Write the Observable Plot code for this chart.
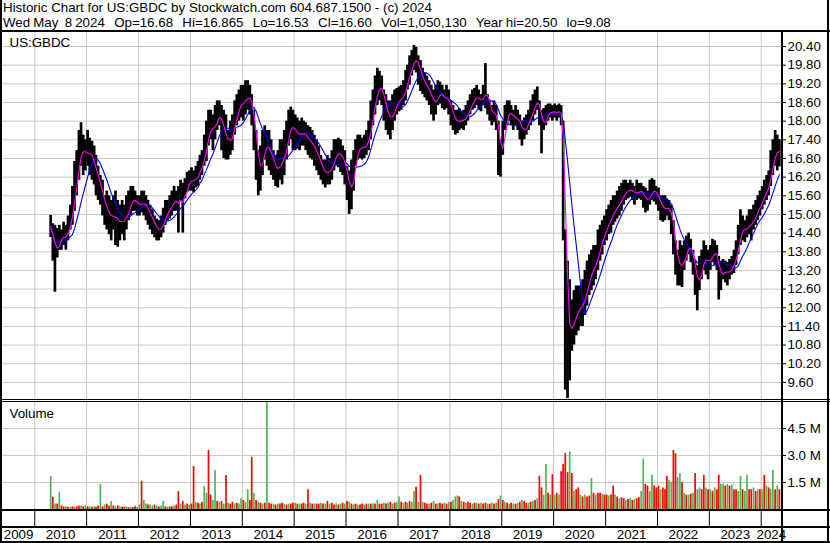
<!DOCTYPE html>
<html><head><meta charset="utf-8">
<script src="https://cdn.jsdelivr.net/npm/d3@7"></script>
<script src="https://cdn.jsdelivr.net/npm/@observablehq/plot@0.6"></script>
<style>
body{margin:0;background:#fff;}
#wrap{position:relative;width:830px;height:543px;overflow:hidden;background:#fff;font-family:"Liberation Sans",Arial,sans-serif;}
.hl{position:absolute;left:3px;font-size:13.33px;line-height:14px;white-space:pre;color:#000;}
.blk{position:absolute;background:#000;z-index:5;}
.pane{position:absolute;left:0;}
.pane svg{display:block;background:transparent !important;}
</style></head><body>
<div id="wrap">
<div class="hl" style="top:1px">Historic Chart for US:GBDC by Stockwatch.com 604.687.1500 - (c) 2024</div>
<div class="hl" style="top:16px;word-spacing:-0.6px">Wed May  8 2024   Op=16.68   Hi=16.865   Lo=16.53   Cl=16.60   Vol=1,050,130   Year hi=20.50   lo=9.08</div>
<div id="price" class="pane" style="top:32px"></div>
<div id="vol" class="pane" style="top:402px"></div>
<div id="axis" class="pane" style="top:511px"></div>
<div class="blk" style="left:0;top:30px;width:830px;height:2px"></div>
<div class="blk" style="left:0;top:0;width:2px;height:543px"></div>
<div class="blk" style="left:827px;top:0;width:2px;height:543px"></div>
<div class="blk" style="left:0;top:541px;width:830px;height:2px"></div>
<div class="blk" style="left:781px;top:32px;width:2px;height:509px"></div>
<div class="blk" style="left:0;top:399px;width:830px;height:1px"></div>
<div class="blk" style="left:0;top:401px;width:830px;height:1px"></div>
<div class="blk" style="left:0;top:509px;width:830px;height:2px"></div>
<div class="blk" style="left:0;top:526px;width:830px;height:2px"></div>
</div>
<script>
// Semi-monthly price ranges (high / low), starting with the second half of April 2010
const high = [
 14.97,14.7,14.65,14.55,14.65,14.5,14.75,14.65,14.95,15.3,15.9,16.7,17.05,17.7,17.95,17.55,17.4,
 17.7,17.45,17.35,17.2,16.9,16.55,16.25,16.1,15.6,15.75,15.6,15.45,15.6,15.75,15.45,15.3,15.45,15.3,15.6,15.75,15.9,15.9,15.75,15.6,
 15.6,15.75,15.75,15.6,15.45,15.3,15.15,14.95,14.85,14.8,14.95,15.2,15.45,15.45,15.6,15.75,15.9,15.75,15.9,16.1,16.0,16.15,16.35,16.4,
 16.5,16.4,16.55,16.7,16.9,17.05,17.55,18.0,18.35,18.35,18.2,18.5,18.65,18.65,18.5,18.35,18.2,17.7,18.0,18.2,18.65,18.85,19.0,19.15,
 19.15,19.3,19.3,19.15,18.85,18.35,17.7,17.05,17.2,17.7,17.85,17.7,17.7,17.4,17.05,16.9,17.05,17.4,17.4,17.7,18.0,18.35,18.45,18.35,
 18.2,18.1,18.0,18.1,18.0,17.95,17.85,17.8,17.7,17.55,17.4,17.2,16.9,16.75,16.75,16.9,16.8,17.05,17.4,17.4,17.45,17.4,17.2,17.05,
 16.55,16.4,16.75,17.05,17.4,17.55,17.55,17.45,17.55,17.7,18.0,18.65,19.0,19.45,19.7,19.6,19.45,19.0,18.85,18.65,18.65,18.85,19.0,19.05,
 19.1,19.15,19.3,19.63,19.8,20.1,20.27,20.43,20.37,20.1,19.95,19.7,19.55,19.45,19.3,19.15,19.0,19.15,19.3,19.25,19.15,19.0,19.15,19.0,
 18.65,18.5,18.35,18.35,18.4,18.3,18.35,18.5,18.65,18.85,19.0,19.05,19.15,19.0,18.85,19.15,19.85,18.85,18.65,18.5,18.65,18.5,18.0,17.4,
 18.0,18.5,18.65,18.65,18.5,18.35,18.5,18.35,18.2,18.0,18.1,18.2,18.35,18.65,18.85,19.0,19.1,18.65,18.35,18.4,18.5,18.55,18.55,18.5,
 18.55,18.5,18.55,18.5,18.0,14.5,13.5,12.9,12.25,12.55,12.7,12.7,12.7,12.9,13.2,13.5,13.7,13.85,14.0,14.0,14.5,14.65,14.8,14.95,
 15.15,15.3,15.45,15.6,15.6,15.75,15.9,16.0,16.1,16.1,16.0,16.1,16.0,15.9,16.1,16.0,16.0,15.9,15.85,15.75,16.1,16.15,16.1,15.9,
 15.85,15.6,15.6,15.6,15.5,15.45,15.3,14.8,14.15,13.85,14.15,14.0,14.15,14.3,14.4,14.2,13.85,13.5,13.35,13.65,13.85,14.15,14.0,13.85,
 14.0,14.2,14.15,14.0,13.65,13.5,13.55,13.5,13.45,13.55,13.65,13.85,14.15,14.65,15.15,14.95,14.8,14.95,15.15,15.15,15.3,15.45,15.6,15.75,
 15.9,16.1,16.25,16.4,17.05,17.4,17.7,17.55,17.4
];
const low = [
 14.26,13.5,12.5,13.6,13.85,13.85,14.0,13.85,14.15,14.5,14.65,15.1,15.6,16.1,16.55,16.25,16.4,
 16.55,16.25,16.1,15.95,15.6,15.45,15.3,14.95,14.65,14.5,14.35,14.15,14.5,14.0,13.95,14.15,14.35,14.15,14.5,14.8,14.95,15.1,15.1,14.95,
 14.95,15.05,14.95,14.8,14.65,14.5,14.35,14.25,14.15,14.15,14.25,14.4,14.65,14.8,14.85,14.95,15.1,15.1,14.4,15.45,14.4,15.5,15.7,15.75,
 15.75,15.7,15.85,15.9,16.1,16.25,16.55,16.7,17.2,17.4,17.05,17.4,17.7,17.85,17.05,16.8,16.75,16.75,16.9,17.05,17.55,17.85,18.0,18.1,
 18.0,18.2,18.35,18.2,17.85,17.05,16.1,15.6,15.75,16.25,16.75,16.55,16.4,16.25,16.1,15.9,15.85,16.1,15.95,16.25,16.75,17.2,17.4,17.05,
 17.05,17.1,17.05,17.2,17.2,17.05,16.9,16.8,16.75,16.55,16.4,16.25,16.1,15.95,15.85,15.95,15.95,16.1,16.4,16.55,16.5,16.35,16.25,15.95,
 15.45,15.0,15.15,15.75,16.55,16.75,16.8,16.75,16.8,16.9,17.05,17.4,17.85,18.2,18.5,18.65,18.5,18.0,17.7,17.55,17.4,17.7,18.0,18.2,
 18.3,18.35,18.5,18.65,19.0,19.15,19.45,19.63,19.55,19.15,18.95,18.85,18.75,18.65,18.5,18.2,18.0,18.2,18.5,18.55,18.4,18.35,18.4,18.2,
 17.85,17.7,17.55,17.6,17.7,17.75,17.7,17.85,18.0,18.2,18.35,18.4,18.5,18.35,18.3,18.5,18.4,18.2,18.0,17.85,17.95,17.7,16.25,16.2,
 16.9,17.7,17.85,18.0,17.85,17.7,17.85,17.7,17.4,17.2,17.4,17.55,17.7,17.85,18.0,18.2,18.35,17.85,16.95,17.7,17.85,18.0,18.1,18.0,
 18.1,18.0,18.1,17.85,14.15,9.35,9.08,9.65,10.6,10.8,11.1,11.25,11.4,11.4,11.75,12.05,12.4,12.55,12.7,12.9,13.2,13.5,13.7,14.0,
 14.15,14.35,14.4,14.65,14.75,14.85,14.95,15.1,15.3,15.45,15.5,15.55,15.45,15.3,15.45,15.5,15.45,15.2,15.05,15.1,15.3,15.45,15.4,15.3,
 15.1,14.8,14.75,14.8,14.95,14.8,14.35,13.7,13.05,12.7,12.7,12.65,13.2,13.5,13.7,13.45,13.05,12.4,11.9,12.55,12.9,13.2,13.05,12.9,
 13.2,13.45,13.35,13.2,12.25,12.55,12.9,12.8,12.7,12.9,13.05,13.1,13.35,13.7,14.0,14.15,14.1,14.25,14.35,14.15,14.5,14.65,14.8,14.95,
 15.15,15.3,15.45,15.6,15.9,16.25,16.55,16.4,16.53
];
// Peak volume (millions) in each half month
const volume = [
 1.83,0.68,0.3,0.3,0.95,0.2,0.15,0.15,0.12,0.12,0.15,0.12,0.15,0.2,0.2,0.15,0.2,
 0.15,0.15,0.12,0.15,0.12,0.2,1.39,0.15,0.25,0.3,0.2,0.44,0.2,0.15,0.2,0.15,0.12,0.12,0.15,0.1,0.12,0.1,0.15,0.12,
 0.25,1.57,0.5,0.3,0.25,0.25,0.2,0.25,0.2,0.15,0.2,0.45,0.15,0.12,0.15,0.15,0.2,0.25,1.0,0.3,0.45,0.25,0.3,0.25,
 0.3,2.39,0.4,0.35,0.3,0.4,1.28,0.9,3.28,0.8,0.5,2.17,0.45,0.4,0.45,0.3,1.89,0.35,0.3,0.4,0.3,0.35,0.3,0.6,
 0.5,0.4,1.1,0.5,2.9,0.9,0.5,0.4,0.35,0.3,0.35,5.94,0.35,0.3,0.3,0.25,0.3,0.3,0.35,0.3,0.25,0.3,0.3,0.35,
 0.35,0.3,0.3,0.3,0.35,0.3,1.1,0.35,0.3,0.3,0.3,0.3,0.35,0.3,0.3,0.45,0.3,0.35,0.25,0.3,0.25,0.3,0.35,0.3,
 0.45,0.4,0.3,0.25,0.3,0.25,0.25,0.3,0.25,0.3,0.3,0.3,0.3,0.3,0.5,0.3,0.3,0.35,0.3,0.35,0.4,0.3,0.35,0.4,
 0.7,0.4,0.35,0.4,0.35,0.45,0.4,1.0,1.24,0.4,1.89,0.4,0.35,0.3,0.3,0.35,0.45,0.3,0.3,0.35,0.3,0.35,0.3,0.4,
 0.4,0.5,0.7,0.75,0.7,0.45,0.4,0.35,0.4,0.35,0.3,0.35,0.35,0.3,0.35,0.3,0.35,0.3,0.3,0.35,0.3,0.35,0.55,0.75,
 0.5,0.4,0.35,0.3,0.35,0.3,0.3,0.35,0.4,0.5,0.45,0.35,0.35,0.4,0.45,0.5,0.6,1.85,1.2,0.8,2.5,0.9,0.8,1.94,
 0.8,0.9,0.8,2.1,2.5,3.1,2.05,3.2,2.0,1.0,1.1,1.2,0.8,0.7,0.8,0.7,0.75,1.72,0.9,0.8,0.9,0.9,0.85,0.8,
 0.8,0.75,0.8,1.3,0.8,0.7,0.6,0.65,0.6,0.5,0.55,0.6,0.5,0.55,0.6,0.65,1.0,2.8,1.4,1.3,1.0,1.9,1.3,1.2,
 1.3,1.1,1.2,1.1,1.83,1.6,1.5,3.28,3.1,1.78,2.0,1.5,0.9,0.8,0.8,0.85,0.9,2.0,1.1,1.2,1.1,1.9,1.2,1.1,
 1.1,1.0,1.2,1.1,1.9,1.4,1.4,1.3,1.4,1.3,1.35,1.1,1.1,1.0,1.83,1.1,1.0,1.9,1.1,1.1,1.2,1.0,1.1,1.1,
 1.1,1.9,1.3,1.2,1.1,2.17,1.1,1.3,1.1
];
// Bar colour: g = up (green), r = down (red)
const direction = [
 "grgrgrrgrgrgrrgrg",
 "rgrgrrgrgrrgrgrgrrgrgrrg",
 "grggrggrgrggrgrrgrrgrgrg",
 "rrgrgrggrrggrgrgrgrrgrgg",
 "rggrrgrgrgrgrrgrgrrgrgrr",
 "grgrrgrgrgrrgrgrgrrgrgrg",
 "rgrgrgrrgrgrgrgrrgrgrgrg",
 "grgrgrggrgrgrrgrgrgrrgrg",
 "rgggrgrgrrgrgrgrrgrgrgrg",
 "rgrgrgrgrgrrgrgrgrrggrgr",
 "grgrrrrgrgrrgrgrrgrgrrgr",
 "rgrrgrgrrgrgrgrrggrrggrr",
 "rgrrrggrrggrgrgrgrggrrgr",
 "grgrrggrgrgrrggrggrrgrgr",
 "grgrggrgr"
].join("").split("");
const priceTicks = [9.6,10.2,10.8,11.4,12.0,12.6,13.2,13.8,14.4,15.0,15.6,16.2,16.8,17.4,18.0,18.6,19.2,19.8,20.4];
const volumeTicks = [1.5,3.0,4.5];
const years = [2009,2010,2011,2012,2013,2014,2015,2016,2017,2018,2019,2020,2021,2022,2023,2024];

if (high.length !== low.length || high.length !== volume.length || high.length !== direction.length)
  throw new Error(`length mismatch high=${high.length} low=${low.length} vol=${volume.length} dir=${direction.length}`);

const FIRST_HALF = 7; // half-month index of 2010-04 (second half)
const rows = high.map((h, i) => {
  const k = FIRST_HALF + i;
  const y = 2010 + Math.floor(k / 24);
  const m = Math.floor((k % 24) / 2);
  return {date: new Date(y, m, k % 2 ? 23 : 8), high: h, low: low[i], mid: (h + low[i]) / 2, vol: volume[i], dir: direction[i]};
});

const xDomain = [new Date(2009, 4, 19), new Date(2024, 4, 22, 22)];
const yearStarts = years.slice(1).map(y => new Date(y, 0, 1));
const yearLabels = years.map(y => {
  const a = Math.max(+new Date(y, 0, 1), +xDomain[0]);
  const b = Math.min(+new Date(y + 1, 0, 1), +xDomain[1]);
  return {label: String(y), mid: new Date((a + b) / 2)};
});

const FONT = "'Liberation Sans', Arial, sans-serif";
const GRID = "#c8c8c8";
const GREEN = "#4cb84c";
const RED = "#ff0000";
const common = {width: 830, marginLeft: 2, marginRight: 49, marginTop: 0, marginBottom: 0,
  style: {fontFamily: FONT, fontSize: "13.33px", background: "transparent", overflow: "visible", color: "#000"}};

const price = Plot.plot({
  ...common, height: 367,
  x: {type: "time", domain: xDomain, axis: null},
  y: {domain: [9.05, 20.85], axis: null},
  marks: [
    Plot.ruleY(priceTicks, {stroke: GRID}),
    Plot.ruleX(yearStarts, {stroke: GRID}),
    Plot.ruleX(rows, {x: "date", y1: "low", y2: "high", stroke: "#000", strokeWidth: 2.7}),
    Plot.lineY(rows, Plot.windowY({k: 10, anchor: "end", reduce: "mean"}, {x: "date", y: "mid", stroke: "#0000ff", strokeWidth: 1.1})),
    Plot.lineY(rows, Plot.windowY({k: 3, anchor: "end", reduce: "mean"}, {x: "date", y: "mid", stroke: "#ff00ff", strokeWidth: 1.1})),
    Plot.axisY(priceTicks, {anchor: "right", label: null, tickFormat: d => d.toFixed(2), tickSize: 4, tickPadding: 2, fontSize: 13.33, stroke: "#000"}),
    Plot.text(["US:GBDC"], {frameAnchor: "top-left", dx: 7, dy: 5, lineAnchor: "top", textAnchor: "start", fontSize: 13.33, fill: "#000"})
  ]
});
document.getElementById("price").append(price);

const vol = Plot.plot({
  ...common, height: 107,
  x: {type: "time", domain: xDomain, axis: null},
  y: {domain: [0, 5.95], axis: null},
  marks: [
    Plot.ruleY(volumeTicks, {stroke: GRID}),
    Plot.ruleX(yearStarts, {stroke: GRID}),
    Plot.ruleX(rows.filter(d => d.dir === "g"), {x: "date", y1: 0, y2: "vol", stroke: GREEN, strokeWidth: 1.7}),
    Plot.ruleX(rows.filter(d => d.dir === "r"), {x: "date", y1: 0, y2: "vol", stroke: RED, strokeWidth: 1.7}),
    Plot.axisY(volumeTicks, {anchor: "right", label: null, tickFormat: d => d.toFixed(1) + " M", tickSize: 4, tickPadding: 2, fontSize: 13.33}),
    Plot.text(["Volume"], {frameAnchor: "top-left", dx: 7, dy: 6, lineAnchor: "top", textAnchor: "start", fontSize: 13.33, fill: "#000"})
  ]
});
document.getElementById("vol").append(vol);

const axis = Plot.plot({
  ...common, height: 30,
  x: {type: "time", domain: xDomain, axis: null},
  y: {domain: [0, 30], range: [0, 30], axis: null},
  marks: [
    Plot.ruleX(yearStarts, {y1: 0, y2: 15, stroke: "#000"}),
    Plot.text(yearLabels, {x: "mid", y: 23.5, text: "label", fontSize: 13.33, fill: "#000"})
  ]
});
document.getElementById("axis").append(axis);
</script>
</body></html>
